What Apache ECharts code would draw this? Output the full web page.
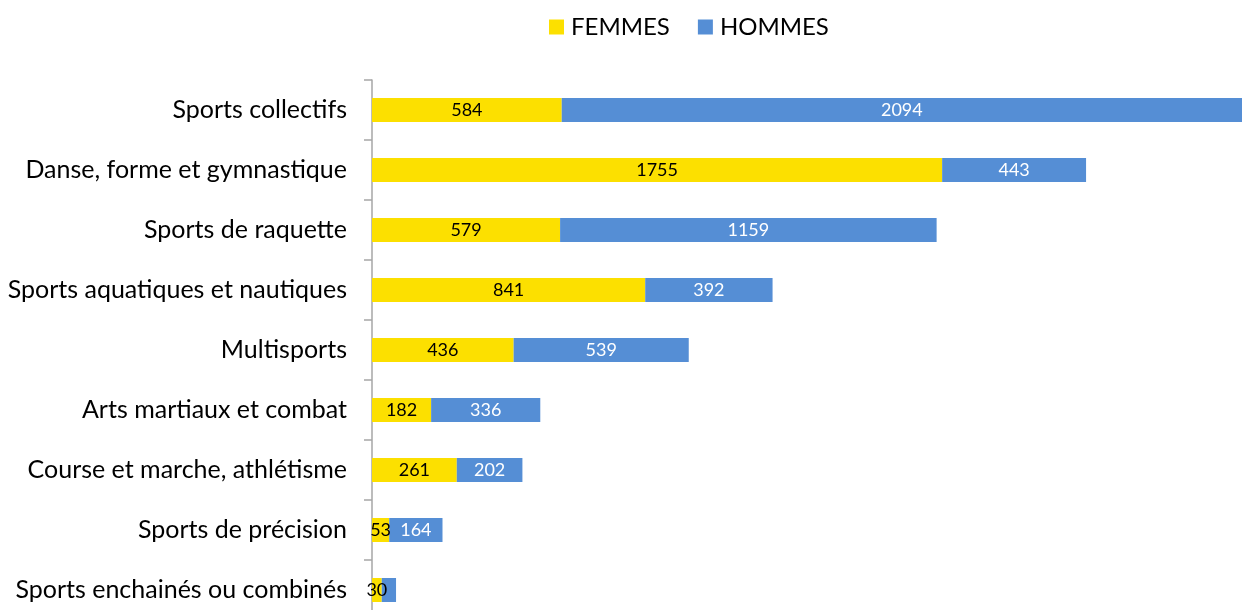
<!DOCTYPE html>
<html>
<head>
<meta charset="utf-8">
<script src="https://cdn.jsdelivr.net/npm/echarts@6/dist/echarts.min.js"></script>
<style>html,body{margin:0;padding:0;background:#fff;overflow:hidden}#c{width:1242px;height:620px}</style>
</head>
<body>
<div id="c"></div>
<script>
const categories = ["Sports collectifs","Danse, forme et gymnastique","Sports de raquette","Sports aquatiques et nautiques","Multisports","Arts martiaux et combat","Course et marche, athlétisme","Sports de précision","Sports enchainés ou combinés"];
const femmes = [584,1755,579,841,436,182,261,53,30];
const hommes = [2094,443,1159,392,539,336,202,164,44];
const hiddenLabelBelow = 50;

const chart = echarts.init(document.getElementById('c'));
const font = 'Lato, "Open Sans", sans-serif';
chart.setOption({
  animation:false,
  legend:{
    data:['FEMMES','HOMMES'],
    top:15, left:549, padding:0,
    itemWidth:15, itemHeight:15, itemGap:28,
    icon:'rect',
    textStyle:{fontSize:24, color:'#000', fontFamily:font, padding:[0,0,0,2]}
  },
  grid:{left:372, right:0, top:80, bottom:0},
  xAxis:{type:'value', min:0, max:2678, show:false},
  yAxis:{
    type:'category', data:categories, inverse:true,
    axisLine:{show:true, lineStyle:{color:'#A6A6A6', width:1.5}},
    axisTick:{show:true, length:8, lineStyle:{color:'#A6A6A6', width:1.5}},
    axisLabel:{fontSize:25, color:'#000', margin:25, fontFamily:font}
  },
  series:[
    {name:'FEMMES', type:'bar', stack:'t', barWidth:24, itemStyle:{color:'#FCE000'},
     label:{show:true, position:'inside', color:'#000', fontSize:18, fontFamily:font},
     data:femmes},
    {name:'HOMMES', type:'bar', stack:'t', barWidth:24, itemStyle:{color:'#558ED5'},
     label:{show:true, position:'inside', color:'#fff', fontSize:18, fontFamily:font,
       formatter:p=>p.value<hiddenLabelBelow?'':p.value},
     data:hommes}
  ]
});
</script>
</body>
</html>
